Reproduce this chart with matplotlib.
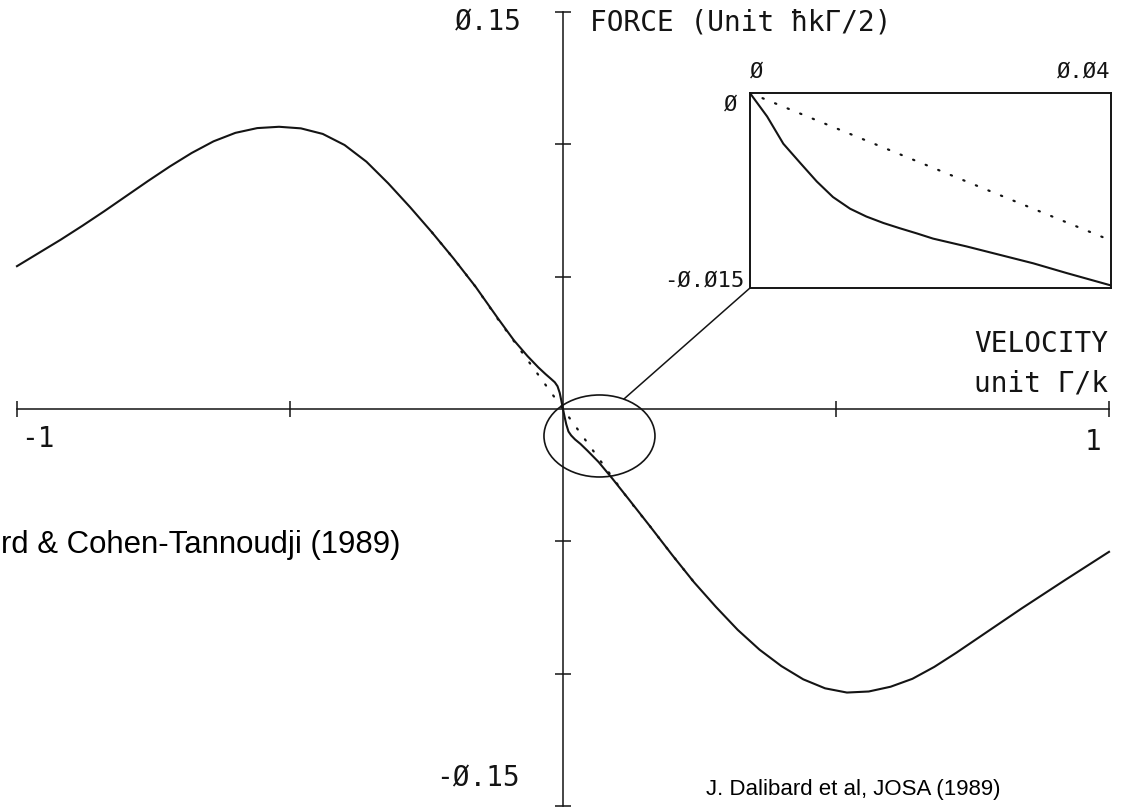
import matplotlib.pyplot as plt
from matplotlib.patches import Ellipse, ConnectionPatch
import numpy as np

# Force on the atom versus velocity (velocity in units of Gamma/k)
vel_left = [-1.00, -0.96, -0.92, -0.88, -0.84, -0.80, -0.76, -0.72, -0.68, -0.64,
            -0.60, -0.56, -0.52, -0.48, -0.44, -0.40, -0.36, -0.32, -0.28, -0.24,
            -0.20, -0.16, -0.12, -0.09, -0.065, -0.045, -0.032, -0.022, -0.015, -0.010,
            -0.006, -0.003, 0.0]
force_left = [0.0540, 0.0590, 0.0640, 0.0693, 0.0748, 0.0805, 0.0862, 0.0917, 0.0968, 0.1012,
              0.1044, 0.1062, 0.1067, 0.1061, 0.1040, 0.0998, 0.0935, 0.0853, 0.0763, 0.0668,
              0.0568, 0.0462, 0.0345, 0.0260, 0.0200, 0.0157, 0.0132, 0.0114, 0.0101, 0.0086,
              0.0061, 0.0031, 0.0]

vel_right = [0.003, 0.006, 0.010, 0.015, 0.022, 0.032, 0.045, 0.065, 0.09, 0.12,
             0.16, 0.20, 0.24, 0.28, 0.32, 0.36, 0.40, 0.44, 0.48, 0.52,
             0.56, 0.60, 0.64, 0.68, 0.72, 0.76, 0.80, 0.84, 0.88, 0.92,
             0.96, 1.00]
force_right = [-0.0030, -0.0058, -0.0085, -0.0100, -0.0115, -0.0132, -0.0158, -0.0200, -0.0262, -0.0340,
               -0.0445, -0.0552, -0.0655, -0.0748, -0.0835, -0.0910, -0.0972, -0.1022, -0.1056, -0.1072,
               -0.1068, -0.1050, -0.1020, -0.0975, -0.0922, -0.0866, -0.0810, -0.0754, -0.0700, -0.0646,
               -0.0593, -0.0540]

# Doppler force (dotted), only visible near v = 0
doppler_vel = [-0.24, -0.20, -0.16, -0.12, -0.09, 0.0, 0.09, 0.12, 0.16, 0.20, 0.24]
doppler_force = [0.0668, 0.0568, 0.0462, 0.0342, 0.0257, 0.0, -0.0257, -0.0342, -0.0445, -0.0552, -0.0655]

# Small-velocity range shown in the inset
zoom_vel = [0.0, 0.0019, 0.0037, 0.0056, 0.0074, 0.0092, 0.0111, 0.0129, 0.0148, 0.0166,
            0.0185, 0.0203, 0.0240, 0.0277, 0.0314, 0.0351, 0.0400]
zoom_force = [0.0, -0.0018, -0.0039, -0.0054, -0.0068, -0.0080, -0.0089, -0.0095, -0.0100, -0.0104,
              -0.0108, -0.0112, -0.0118, -0.01245, -0.0131, -0.01385, -0.0148]
zoom_doppler_vel = [0.0, 0.0395]
zoom_doppler_force = [0.0, -0.0112]

ink = '#141414'
mono = 'DejaVu Sans Mono'

fig = plt.figure(figsize=(11.22, 8.07), dpi=100)
ax = fig.add_axes([0, 0, 1, 1])
ax.set_xlim(-1.0311, 1.0238)
ax.set_ylim(-0.15047, 0.15463)

# axes crossing at the origin, with end caps
for side in ['top', 'right']:
    ax.spines[side].set_visible(False)
ax.spines['left'].set_position(('data', 0))
ax.spines['bottom'].set_position(('data', 0))
ax.spines['left'].set_bounds(-0.15, 0.15)
ax.spines['bottom'].set_bounds(-1, 1)
for side in ['left', 'bottom']:
    ax.spines[side].set_linewidth(1.1)
    ax.spines[side].set_color(ink)
ax.set_xticks([-1, -0.5, 0.5, 1])
ax.set_yticks([-0.15, -0.1, -0.05, 0.05, 0.1, 0.15])
ax.tick_params(direction='inout', length=12, width=1.1, color=ink,
               labelbottom=False, labelleft=False)
ax.patch.set_alpha(0)

ax.plot(doppler_vel, doppler_force, color=ink, lw=1.6, ls=(0, (0.6, 5.5)),
        dash_capstyle='round', zorder=2)
ax.plot(vel_left + vel_right, force_left + force_right, color=ink, lw=1.5,
        solid_joinstyle='round', zorder=3)

# axis labels
lab = dict(family=mono, fontsize=20, color=ink)
ax.text(-0.075, 0.146, '\u00d8.15', ha='right', va='center', **lab)
ax.text(0.05, 0.146, 'FORCE (Unit \u0127k\u0393/2)', ha='left', va='center', **lab)
ax.text(-0.079, -0.1395, '-\u00d8.15', ha='right', va='center', **lab)
ax.text(0.998, 0.0246, 'VELOCITY', ha='right', va='center', **lab)
ax.text(0.998, 0.0095, 'unit \u0393/k', ha='right', va='center', **lab)
ax.text(0.971, -0.0125, '1', ha='center', va='center', **lab)
ax.text(-0.962, -0.0113, '-1', ha='center', va='center', **lab)

# ring around the origin
cx, cy, w, h = 0.0668, -0.0102, 0.2033, 0.031
ax.add_patch(Ellipse((cx, cy), w, h, fill=False, lw=1.2, color=ink, zorder=4))

# inset: zoom on small velocities
ax_in = fig.add_axes([0.6684, 0.6431, 0.3217, 0.2416])
ax_in.set_xlim(0, 0.04)
ax_in.set_ylim(-0.015, 0)
ax_in.set_xticks([])
ax_in.set_yticks([])
for sp in ax_in.spines.values():
    sp.set_linewidth(1.4)
    sp.set_color(ink)
ax_in.plot(zoom_doppler_vel, zoom_doppler_force, color=ink, lw=1.6, ls=(0, (0.6, 5.5)),
           dash_capstyle='round')
ax_in.plot(zoom_vel, zoom_force, color=ink, lw=1.5, solid_joinstyle='round')

small = dict(family=mono, fontsize=16, color=ink, transform=ax_in.transAxes)
ax_in.text(0.0, 1.06, '\u00d8', ha='left', va='bottom', **small)
ax_in.text(1.0, 1.06, '\u00d8.\u00d84', ha='right', va='bottom', **small)
ax_in.text(-0.036, 0.94, '\u00d8', ha='right', va='center', **small)
ax_in.text(-0.015, 0.04, '-\u00d8.\u00d815', ha='right', va='center', **small)

# line from the ring to the inset corner
t = np.deg2rad(64)
con = ConnectionPatch(xyA=(cx + w / 2 * np.cos(t), cy + h / 2 * np.sin(t)), coordsA=ax.transData,
                      xyB=(0, -0.015), coordsB=ax_in.transData, color=ink, lw=1.1)
fig.add_artist(con)

# sources
ax.text(0.262, -0.144, 'J. Dalibard et al, JOSA (1989)', family='Liberation Sans',
        fontsize=16, ha='left', va='center', color='black')
ax.text(-1.0293, -0.0514, 'rd & Cohen-Tannoudji (1989)', family='Liberation Sans',
        fontsize=22.4, ha='left', va='center', color='black')

fig.savefig('out.png', dpi=100)
